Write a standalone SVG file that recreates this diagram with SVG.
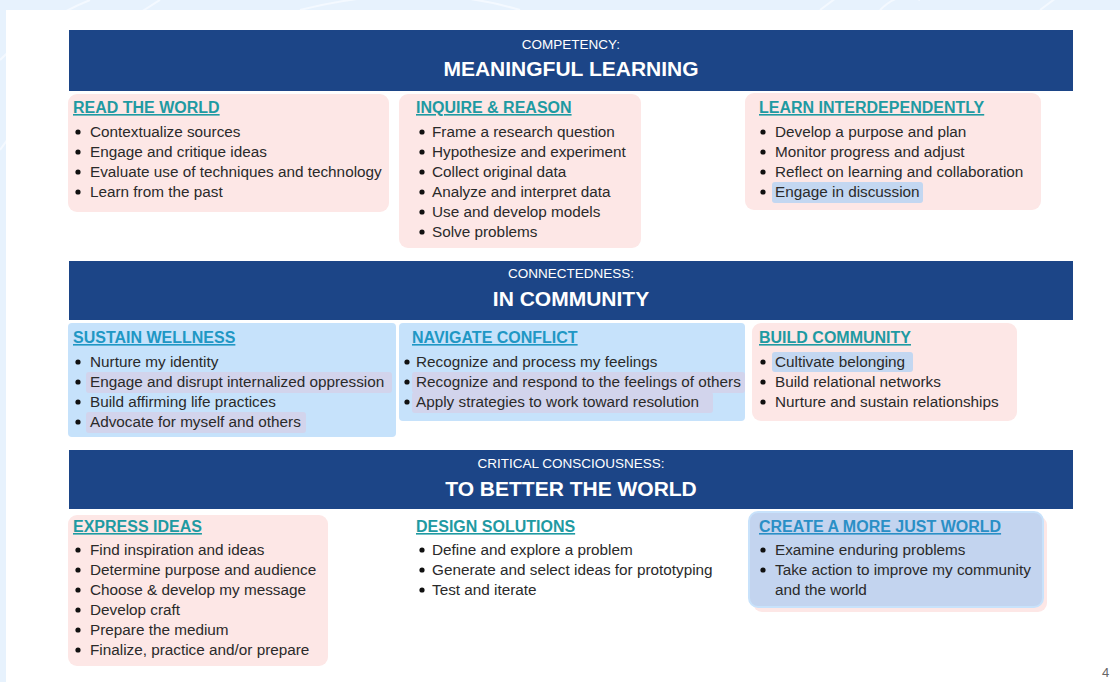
<svg xmlns="http://www.w3.org/2000/svg" width="1120" height="682" viewBox="0 0 1120 682">
<style>
.bar{fill:#1c4587}
.sub{font-family:"Liberation Sans",Arial,sans-serif;font-size:13.5px;fill:#ffffff;text-anchor:middle}
.big{font-family:"Liberation Sans",Arial,sans-serif;font-size:21px;font-weight:bold;fill:#ffffff;text-anchor:middle}
.pink{fill:#fde7e6}
.blue{fill:#c6e2fb}
.tt{font-family:"Liberation Sans",Arial,sans-serif;font-size:16px;font-weight:bold;fill:#1f9aa2;text-decoration:underline}
.tb{font-family:"Liberation Sans",Arial,sans-serif;font-size:16px;font-weight:bold;fill:#2097c4;text-decoration:underline}
.it{font-family:"Liberation Sans",Arial,sans-serif;font-size:15.3px;fill:#2a2a2a}
.dot{fill:#111111}
.hp{fill:#d2d4ec}
.hb{fill:#c3d7f1}
</style>
<rect x="0" y="0" width="1120" height="682" fill="#e7f2fd"/>
<g fill="none" stroke="#f4f9ff" stroke-width="2">
<path d="M0 60 Q40 20 90 0"/>
<path d="M0 150 Q60 60 160 0"/>
<path d="M300 10 Q420 -20 520 10"/>
<path d="M820 10 L840 -5"/>
<path d="M880 10 Q900 -10 920 0"/>
<path d="M1040 10 L1060 -5"/>
</g>
<rect x="6" y="10" width="1114" height="672" fill="#ffffff"/>
<g id="connectors"/>

<g id="header-competency">
<rect class="bar" x="69" y="30" width="1004" height="61"/>
<text class="sub" x="571" y="49">COMPETENCY:</text>
<text class="big" x="571" y="76">MEANINGFUL LEARNING</text>
</g>

<g id="read-the-world">
<rect class="pink" x="68" y="94" width="321" height="118" rx="9"/>
<text class="tt" x="73" y="113">READ THE WORLD</text>
<circle class="dot" cx="78" cy="132" r="2.6"/><text class="it" x="90" y="137">Contextualize sources</text>
<circle class="dot" cx="78" cy="152" r="2.6"/><text class="it" x="90" y="157">Engage and critique ideas</text>
<circle class="dot" cx="78" cy="172" r="2.6"/><text class="it" x="90" y="177">Evaluate use of techniques and technology</text>
<circle class="dot" cx="78" cy="192" r="2.6"/><text class="it" x="90" y="197">Learn from the past</text>
</g>

<g id="inquire-reason">
<rect class="pink" x="399" y="94" width="242" height="154" rx="9"/>
<text class="tt" x="416" y="113">INQUIRE &amp; REASON</text>
<circle class="dot" cx="422" cy="132" r="2.6"/><text class="it" x="432" y="137">Frame a research question</text>
<circle class="dot" cx="422" cy="152" r="2.6"/><text class="it" x="432" y="157">Hypothesize and experiment</text>
<circle class="dot" cx="422" cy="172" r="2.6"/><text class="it" x="432" y="177">Collect original data</text>
<circle class="dot" cx="422" cy="192" r="2.6"/><text class="it" x="432" y="197">Analyze and interpret data</text>
<circle class="dot" cx="422" cy="212" r="2.6"/><text class="it" x="432" y="217">Use and develop models</text>
<circle class="dot" cx="422" cy="232" r="2.6"/><text class="it" x="432" y="237">Solve problems</text>
</g>

<g id="learn-interdependently">
<rect class="pink" x="745" y="93" width="296" height="117" rx="9"/>
<text class="tt" x="759" y="113">LEARN INTERDEPENDENTLY</text>
<rect class="hb" x="772" y="182" width="151" height="21" rx="3"/>
<circle class="dot" cx="763" cy="132" r="2.6"/><text class="it" x="775" y="137">Develop a purpose and plan</text>
<circle class="dot" cx="763" cy="152" r="2.6"/><text class="it" x="775" y="157">Monitor progress and adjust</text>
<circle class="dot" cx="763" cy="172" r="2.6"/><text class="it" x="775" y="177">Reflect on learning and collaboration</text>
<circle class="dot" cx="763" cy="192" r="2.6"/><text class="it" x="775" y="197">Engage in discussion</text>
</g>

<g id="header-connectedness">
<rect class="bar" x="69" y="261" width="1004" height="59"/>
<text class="sub" x="571" y="278">CONNECTEDNESS:</text>
<text class="big" x="571" y="306">IN COMMUNITY</text>
</g>

<g id="sustain-wellness">
<rect class="blue" x="68" y="323" width="328" height="114" rx="4"/>
<text class="tb" x="73" y="343">SUSTAIN WELLNESS</text>
<rect class="hp" x="86" y="372" width="306" height="21" rx="3"/>
<rect class="hp" x="86" y="412" width="220" height="21" rx="3"/>
<circle class="dot" cx="78" cy="362" r="2.6"/><text class="it" x="90" y="367">Nurture my identity</text>
<circle class="dot" cx="78" cy="382" r="2.6"/><text class="it" x="90" y="387">Engage and disrupt internalized oppression</text>
<circle class="dot" cx="78" cy="402" r="2.6"/><text class="it" x="90" y="407">Build affirming life practices</text>
<circle class="dot" cx="78" cy="422" r="2.6"/><text class="it" x="90" y="427">Advocate for myself and others</text>
</g>

<g id="navigate-conflict">
<rect class="blue" x="399" y="323" width="346" height="98" rx="4"/>
<text class="tb" x="412" y="343">NAVIGATE CONFLICT</text>
<rect class="hp" x="412" y="372" width="333" height="21" rx="3"/>
<rect class="hp" x="412" y="392" width="301" height="21" rx="3"/>
<circle class="dot" cx="407" cy="362" r="2.6"/><text class="it" x="416" y="367">Recognize and process my feelings</text>
<circle class="dot" cx="407" cy="382" r="2.6"/><text class="it" x="416" y="387">Recognize and respond to the feelings of others</text>
<circle class="dot" cx="407" cy="402" r="2.6"/><text class="it" x="416" y="407">Apply strategies to work toward resolution</text>
</g>

<g id="build-community">
<rect class="pink" x="752" y="323" width="265" height="98" rx="9"/>
<text class="tt" x="759" y="343">BUILD COMMUNITY</text>
<rect class="hb" x="772" y="352" width="141" height="20" rx="3"/>
<circle class="dot" cx="763" cy="362" r="2.6"/><text class="it" x="775" y="367">Cultivate belonging</text>
<circle class="dot" cx="763" cy="382" r="2.6"/><text class="it" x="775" y="387">Build relational networks</text>
<circle class="dot" cx="763" cy="402" r="2.6"/><text class="it" x="775" y="407">Nurture and sustain relationships</text>
</g>

<g id="header-critical">
<rect class="bar" x="69" y="450" width="1004" height="59"/>
<text class="sub" x="571" y="468">CRITICAL CONSCIOUSNESS:</text>
<text class="big" x="571" y="496">TO BETTER THE WORLD</text>
</g>

<g id="express-ideas">
<rect class="pink" x="68" y="515" width="260" height="151" rx="9"/>
<text class="tt" x="73" y="532">EXPRESS IDEAS</text>
<circle class="dot" cx="78" cy="550" r="2.6"/><text class="it" x="90" y="555">Find inspiration and ideas</text>
<circle class="dot" cx="78" cy="570" r="2.6"/><text class="it" x="90" y="575">Determine purpose and audience</text>
<circle class="dot" cx="78" cy="590" r="2.6"/><text class="it" x="90" y="595">Choose &amp; develop my message</text>
<circle class="dot" cx="78" cy="610" r="2.6"/><text class="it" x="90" y="615">Develop craft</text>
<circle class="dot" cx="78" cy="630" r="2.6"/><text class="it" x="90" y="635">Prepare the medium</text>
<circle class="dot" cx="78" cy="650" r="2.6"/><text class="it" x="90" y="655">Finalize, practice and/or prepare</text>
</g>

<g id="design-solutions">
<text class="tt" x="416" y="532">DESIGN SOLUTIONS</text>
<circle class="dot" cx="422" cy="550" r="2.6"/><text class="it" x="432" y="555">Define and explore a problem</text>
<circle class="dot" cx="422" cy="570" r="2.6"/><text class="it" x="432" y="575">Generate and select ideas for prototyping</text>
<circle class="dot" cx="422" cy="590" r="2.6"/><text class="it" x="432" y="595">Test and iterate</text>
</g>

<g id="create-just-world">
<rect class="pink" x="753" y="516" width="294" height="96" rx="9"/>
<rect x="749" y="512" width="294" height="95" rx="9" fill="#c3d4ef" stroke="#c8e2fb" stroke-width="2"/>
<text class="tb" x="759" y="532" style="fill:#2a8fc6">CREATE A MORE JUST WORLD</text>
<circle class="dot" cx="763" cy="550" r="2.6"/><text class="it" x="775" y="555">Examine enduring problems</text>
<circle class="dot" cx="763" cy="570" r="2.6"/><text class="it" x="775" y="575">Take action to improve my community</text>
<text class="it" x="775" y="595">and the world</text>
</g>

<text x="1102" y="677" font-family="Liberation Sans, Arial, sans-serif" font-size="13" fill="#666666">4</text>
</svg>
